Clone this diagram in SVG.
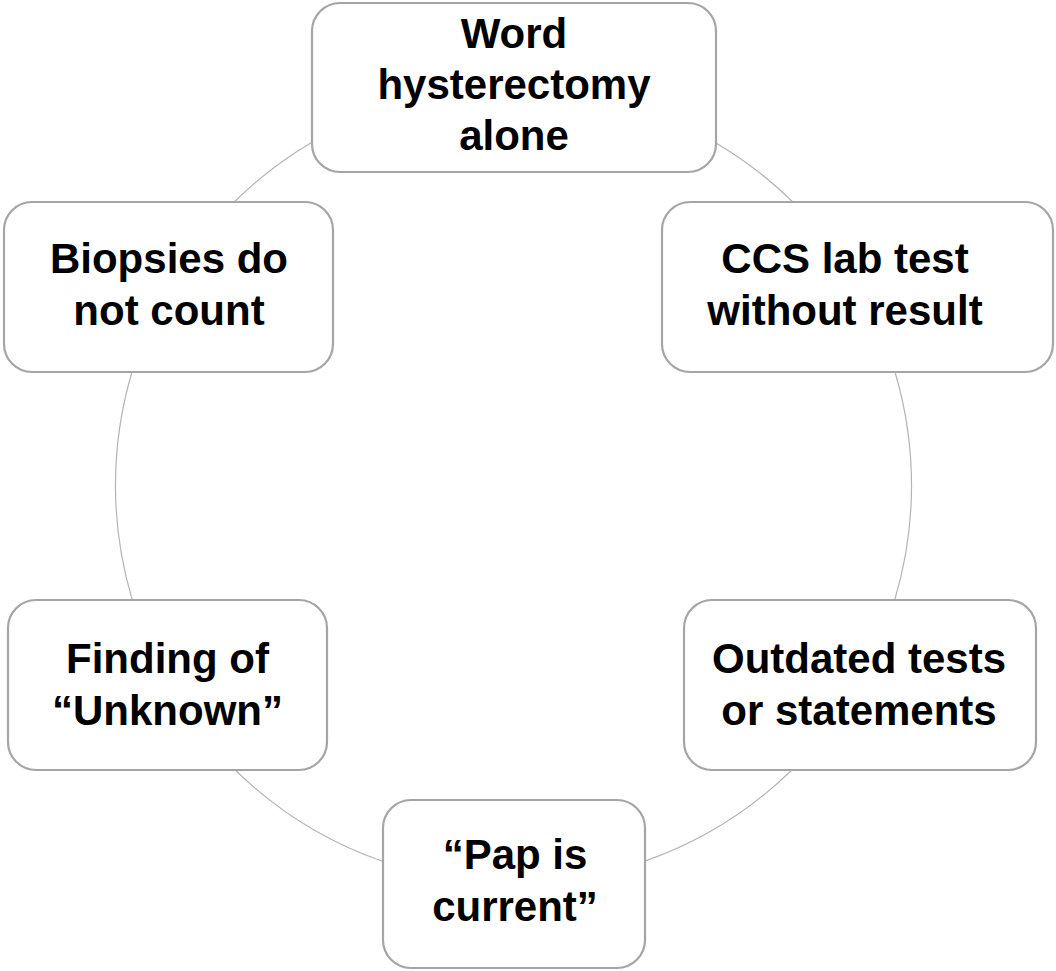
<svg xmlns="http://www.w3.org/2000/svg" width="1056" height="971" viewBox="0 0 1056 971">
<style>
.box{fill:#ffffff;stroke:#a5a5a5;stroke-width:2.2}
.arc{fill:none;stroke:#b4b4b4;stroke-width:1.2}
.t{font-family:"Liberation Sans",Arial,sans-serif;font-weight:bold;font-size:42px;fill:#000000;text-anchor:middle}
</style>
<rect width="1056" height="971" fill="#ffffff"/>
<g id="connectors">
<path class="arc" d="M716,142.9 A398,398 0 0 1 792.8,202"/>
<path class="arc" d="M895,372 A398,398 0 0 1 894.7,600"/>
<path class="arc" d="M791.8,770 A398,398 0 0 1 645,861.1"/>
<path class="arc" d="M383,861.5 A398,398 0 0 1 235.2,770"/>
<path class="arc" d="M132.3,600 A398,398 0 0 1 132,372"/>
<path class="arc" d="M234.2,202 A398,398 0 0 1 312,142.3"/>
</g>
<g id="node-word">
<rect class="box" x="312" y="3" width="404" height="169" rx="28"/>
<text class="t" x="514" y="48">Word</text>
<text class="t" x="514" y="99">hysterectomy</text>
<text class="t" x="514" y="150">alone</text>
</g>
<g id="node-ccs">
<rect class="box" x="662" y="202" width="391" height="170" rx="28"/>
<text class="t" x="845" y="273">CCS lab test</text>
<text class="t" x="845" y="325">without result</text>
</g>
<g id="node-outdated">
<rect class="box" x="684" y="600" width="352" height="170" rx="28"/>
<text class="t" x="859" y="673">Outdated tests</text>
<text class="t" x="859" y="725">or statements</text>
</g>
<g id="node-pap">
<rect class="box" x="383" y="800" width="262" height="168" rx="28"/>
<text class="t" x="515" y="869">“Pap is</text>
<text class="t" x="515" y="921">current”</text>
</g>
<g id="node-finding">
<rect class="box" x="8" y="600" width="319" height="170" rx="28"/>
<text class="t" x="167.5" y="673">Finding of</text>
<text class="t" x="167.5" y="725">“Unknown”</text>
</g>
<g id="node-biopsies">
<rect class="box" x="4" y="202" width="329" height="170" rx="28"/>
<text class="t" x="169" y="273">Biopsies do</text>
<text class="t" x="169" y="325">not count</text>
</g>
</svg>
